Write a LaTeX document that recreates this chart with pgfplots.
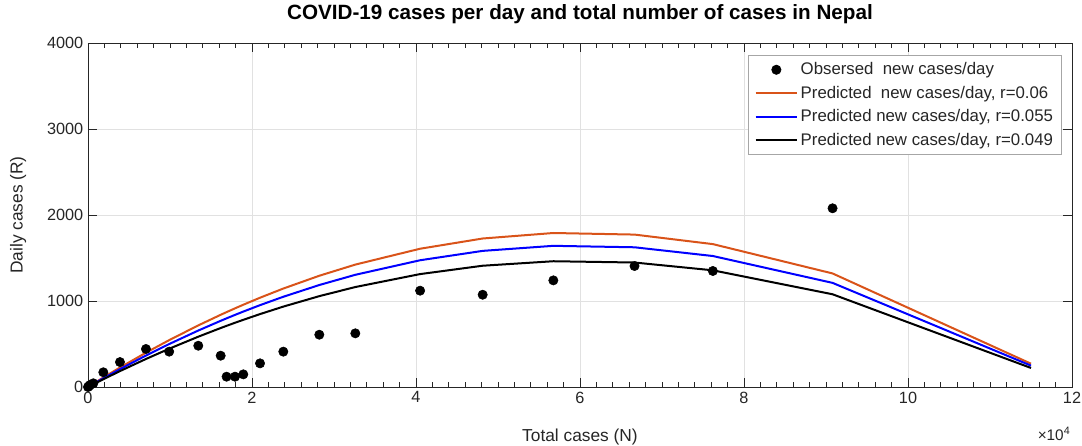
\documentclass[border=0pt]{standalone}
\usepackage{fontspec}
\setmainfont{Liberation Sans}
\usepackage{pgfplots}
\usepackage{pgfplotstable}
\pgfplotsset{compat=1.18}
\definecolor{morange}{rgb}{0.85,0.325,0.098}
\definecolor{axgray}{RGB}{38,38,38}
\definecolor{gridgray}{RGB}{225,225,225}
\pgfplotsset{
  linelegend/.style={legend image code/.code={\draw[##1] (0pt,0pt) -- (31pt,0pt);}},
  marklegend/.style={legend image code/.code={\draw[##1] plot coordinates {(15.5pt,0pt)};}},
}

\pgfplotstableread{
N R
0 0
100 8
250 23
650 43
1870 171
3900 290
7070 442
9900 411
13450 480
16180 364
16900 120
17930 120
18940 147
20980 275
23820 411
28210 608
32600 624
40500 1120
48130 1073
56750 1240
66650 1407
76200 1349
90800 2078
}\observed

\pgfplotstableread{
N A B C
0 0 0 0
100 6.0 5.5 4.9
250 15.0 13.7 12.2
650 38.8 35.6 31.7
1870 110.4 101.2 90.2
3900 226.4 207.5 184.9
7070 399.1 365.9 326.0
9900 544.9 499.5 445.0
13450 716.3 656.6 585.0
16180 839.6 769.6 685.7
16900 870.8 798.3 711.2
17930 914.7 838.4 747.0
18940 956.6 876.9 781.2
20980 1038.2 951.7 847.8
23820 1144.8 1049.4 934.9
28210 1293.7 1185.9 1056.5
32600 1423.3 1304.7 1162.4
40500 1607.8 1473.8 1313.0
48130 1726.7 1582.8 1410.1
56750 1790.7 1641.5 1462.4
66650 1772.3 1624.6 1447.4
76200 1661.5 1523.1 1356.9
90800 1320.4 1210.7 1078.2
115000 270.9 248.4 221.3
}\predicted

\begin{document}
\begin{tikzpicture}
\path[use as bounding box] (-66pt,-44.25pt) rectangle (745.5pt,290.25pt);
\begin{axis}[
  scale only axis, width=738pt, height=258pt,
  xmin=0, xmax=120000, ymin=0, ymax=4000,
  clip=false,
  xtick={0,20000,40000,60000,80000,100000,120000},
  xticklabels={0,2,4,6,8,10,12},
  scaled x ticks=false, scaled y ticks=false,
  ytick={0,1000,2000,3000,4000},
  /pgf/number format/assume math mode=true,
  yticklabel style={/pgf/number format/fixed, /pgf/number format/1000 sep={}},
  tick label style={font=\fontsize{12.2}{15}\selectfont, text=axgray},
  minor x tick num=9,
  tick align=inside,
  major tick length=6.5pt, minor tick length=3.5pt,
  tick style={axgray, line width=0.6pt},
  minor tick style={axgray, line width=0.6pt},
  axis line style={axgray, line width=0.6pt},
  grid=major,
  major grid style={gridgray, line width=0.6pt},
  title={COVID-19 cases per day and total number of cases in Nepal},
  title style={font=\fontsize{15.5}{18}\selectfont\bfseries, at={(rel axis cs:0.5,1.061)}, anchor=center},
  xlabel={Total cases (N)},
  ylabel={Daily cases (R)},
  xlabel style={font=\fontsize{13}{15}\selectfont, text=axgray, at={(rel axis cs:0.5,-0.1453)}, anchor=center},
  ylabel style={font=\fontsize{13}{15}\selectfont, text=axgray, at={(rel axis cs:-0.0711,0.5)}, anchor=center},
  legend style={at={(rel axis cs:1,1)}, anchor=north east, xshift=-7.5pt, yshift=-9pt,
    draw=gray!70, line width=0.5pt, fill=white, font=\fontsize{12.6}{15}\selectfont,
    text=axgray, row sep=3pt, inner xsep=4.5pt, inner ysep=3.5pt},
  legend cell align=left,
]
\addplot[only marks, mark=*, mark size=3.5pt, black, marklegend]
  table[x=N, y=R] {\observed};
\addlegendentry{Obsersed\ \ new cases/day}
\addplot[morange, line width=1.5pt, no marks, linelegend]
  table[x=N, y=A] {\predicted};
\addlegendentry{Predicted\ \ new cases/day, r=0.06}
\addplot[blue, line width=1.5pt, no marks, linelegend]
  table[x=N, y=B] {\predicted};
\addlegendentry{Predicted new cases/day, r=0.055}
\addplot[black, line width=1.5pt, no marks, linelegend]
  table[x=N, y=C] {\predicted};
\addlegendentry{Predicted new cases/day, r=0.049}
\node[anchor=east, font=\fontsize{11.5}{13}\selectfont, text=axgray, inner sep=0pt]
  at ([yshift=-35pt, xshift=-1pt]rel axis cs:1,0) {×10\textsuperscript{4}};
\end{axis}
\end{tikzpicture}
\end{document}
